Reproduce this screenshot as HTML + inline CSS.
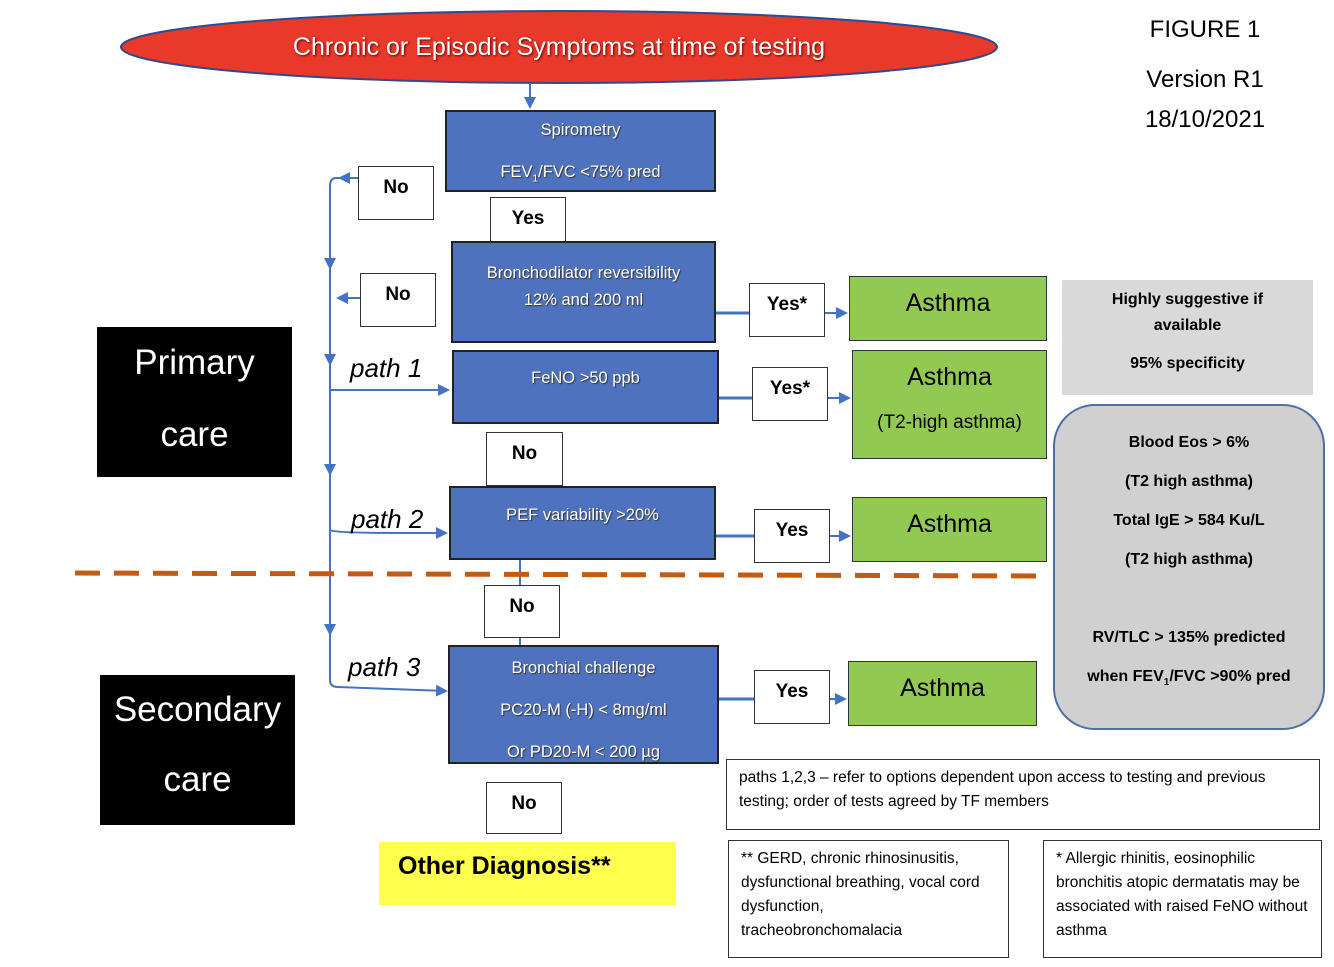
<!DOCTYPE html>
<html><head><meta charset="utf-8"><style>
body{margin:0;width:1334px;height:967px;background:#fff;position:relative;overflow:hidden;font-family:"Liberation Sans",sans-serif}
.a{position:absolute;box-sizing:border-box}
.b{background:#4f72be;border:2px solid #222;color:#fff;text-align:center;font-size:16.5px;text-shadow:1px 1px 1px #333}
.w{background:#fff;border:1.5px solid #333;font-weight:bold;font-size:19px;text-align:center;padding-top:10px}
.g{background:#92c952;border:1.5px solid #333;font-size:25px;text-align:center}
.k{background:#000;color:#fff;font-size:35px;text-align:center}
.n{background:#fff;border:1.5px solid #333;font-size:15.5px;line-height:24px;padding:6px 12px}
.f{font-size:24px;text-align:center;width:200px;left:1105px}
.p{font-style:italic;font-size:26px}
</style></head><body>
<svg class="a" style="left:0;top:0" width="1334" height="967">
<defs><marker id="m" markerWidth="6" markerHeight="6" refX="5" refY="3" orient="auto"><path d="M0,0L6,3L0,6z" fill="#4472c4"/></marker></defs>
<ellipse cx="559" cy="47" rx="438" ry="36" fill="#e8392a" stroke="#2f4b8f" stroke-width="2"/>
<g stroke="#4472c4" stroke-width="2" fill="none">
<line x1="530" y1="83" x2="530" y2="107" marker-end="url(#m)"/>
<path d="M358,178 L336,178 Q330,178 330,186 L330,680 Q330,687 338,687 L446,691" marker-end="url(#m)"/>
<line x1="358" y1="178" x2="340" y2="178" marker-end="url(#m)"/>
<line x1="360" y1="298" x2="338" y2="298" marker-end="url(#m)"/>
<line x1="330" y1="390" x2="448" y2="390" marker-end="url(#m)"/>
<path d="M330,530 Q334,533 400,533 L446,533" marker-end="url(#m)"/>
<line x1="330" y1="240" x2="330" y2="268" marker-end="url(#m)"/>
<line x1="330" y1="330" x2="330" y2="364" marker-end="url(#m)"/>
<line x1="330" y1="440" x2="330" y2="474" marker-end="url(#m)"/>
<line x1="330" y1="600" x2="330" y2="634" marker-end="url(#m)"/>
<line x1="520" y1="560" x2="520" y2="585"/>
<line x1="520" y1="638" x2="520" y2="645"/>
<line x1="716" y1="313" x2="749" y2="313" stroke-width="3"/>
<line x1="825" y1="313" x2="846" y2="313" marker-end="url(#m)"/>
<line x1="719" y1="398" x2="752" y2="398" stroke-width="3"/>
<line x1="828" y1="398" x2="849" y2="398" marker-end="url(#m)"/>
<line x1="716" y1="536" x2="754" y2="536" stroke-width="3"/>
<line x1="830" y1="536" x2="849" y2="536" marker-end="url(#m)"/>
<line x1="719" y1="699" x2="754" y2="699" stroke-width="3"/>
<line x1="830" y1="699" x2="845" y2="699" marker-end="url(#m)"/>
</g>
<line x1="75" y1="573" x2="1045" y2="576" stroke="#c55a11" stroke-width="5" stroke-dasharray="25,14"/>
</svg>
<div class="a" style="left:121px;top:33px;width:876px;text-align:center;color:#fff;font-size:25px;text-shadow:1px 1px 2px #600">Chronic or Episodic Symptoms at time of testing</div>
<div class="a b" style="left:445px;top:110px;width:271px;height:82px;padding-top:8px;line-height:21px">Spirometry<br><br>FEV<sub style="font-size:10px">1</sub>/FVC &lt;75% pred</div>
<div class="a w" style="left:358px;top:166px;width:76px;height:54px">No</div>
<div class="a w" style="left:490px;top:197px;width:76px;height:54px">Yes</div>
<div class="a b" style="left:451px;top:241px;width:265px;height:102px;padding-top:17px;line-height:27px">Bronchodilator reversibility<br>12% and 200 ml</div>
<div class="a w" style="left:360px;top:273px;width:76px;height:54px">No</div>
<div class="a b" style="left:452px;top:350px;width:267px;height:74px;padding-top:17px">FeNO &gt;50 ppb</div>
<div class="a w" style="left:486px;top:432px;width:77px;height:54px">No</div>
<div class="a b" style="left:449px;top:486px;width:267px;height:74px;padding-top:18px">PEF variability &gt;20%</div>
<div class="a w" style="left:484px;top:585px;width:76px;height:53px">No</div>
<div class="a b" style="left:448px;top:645px;width:271px;height:119px;padding-top:0;line-height:42px">Bronchial challenge<br>PC20-M (-H) &lt; 8mg/ml<br>Or PD20-M &lt; 200 µg</div>
<div class="a w" style="left:486px;top:782px;width:76px;height:52px">No</div>
<div class="a" style="left:379px;top:842px;width:297px;height:63px;background:#ffff4d;font-weight:bold;font-size:25px;padding:10px 0 0 19px">Other Diagnosis**</div>
<div class="a w" style="left:749px;top:283px;width:76px;height:54px">Yes*</div>
<div class="a g" style="left:849px;top:276px;width:198px;height:65px;padding-top:12px">Asthma</div>
<div class="a w" style="left:752px;top:367px;width:76px;height:54px">Yes*</div>
<div class="a g" style="left:852px;top:350px;width:195px;height:109px;padding-top:13px;line-height:26px">Asthma<br><span style="font-size:19px;line-height:46px;display:block;margin-top:10px">(T2-high asthma)</span></div>
<div class="a w" style="left:754px;top:509px;width:76px;height:54px">Yes</div>
<div class="a g" style="left:852px;top:497px;width:195px;height:65px;padding-top:12px">Asthma</div>
<div class="a w" style="left:754px;top:670px;width:76px;height:54px">Yes</div>
<div class="a g" style="left:848px;top:661px;width:189px;height:65px;padding-top:12px">Asthma</div>
<div class="a" style="left:1062px;top:280px;width:251px;height:115px;background:#d9d9d9;text-align:center;font-weight:bold;font-size:16px;line-height:26px;padding-top:7px">Highly suggestive if<br>available<br><span style="line-height:50px">95% specificity</span></div>
<div class="a" style="left:1053px;top:404px;width:272px;height:326px;background:#d0d0d0;border:2px solid #4f6fa8;border-radius:42px;text-align:center;font-weight:bold;font-size:16px;line-height:39px;padding-top:17px">Blood Eos &gt; 6%<br>(T2 high asthma)<br>Total IgE &gt; 584 Ku/L<br>(T2 high asthma)<br><br>RV/TLC &gt; 135% predicted<br>when FEV<sub style="font-size:10px">1</sub>/FVC &gt;90% pred</div>
<div class="a n" style="left:726px;top:759px;width:594px;height:71px">paths 1,2,3 – refer to options dependent upon access to testing and previous testing; order of tests agreed by TF members</div>
<div class="a n" style="left:728px;top:840px;width:281px;height:118px">** GERD, chronic rhinosinusitis, dysfunctional breathing, vocal cord dysfunction,<br>tracheobronchomalacia</div>
<div class="a n" style="left:1043px;top:840px;width:279px;height:118px">* Allergic rhinitis, eosinophilic bronchitis atopic dermatatis may be associated with raised FeNO without asthma</div>
<div class="a k" style="left:97px;top:327px;width:195px;height:150px;padding-top:0;line-height:72px">Primary<br>care</div>
<div class="a k" style="left:100px;top:675px;width:195px;height:150px;padding-top:0px;line-height:70px">Secondary<br>care</div>
<div class="a p" style="left:350px;top:353px">path 1</div>
<div class="a p" style="left:351px;top:504px">path 2</div>
<div class="a p" style="left:348px;top:652px">path 3</div>
<div class="a f" style="top:16px">FIGURE 1</div>
<div class="a f" style="top:66px">Version R1</div>
<div class="a f" style="top:106px">18/10/2021</div>
</body></html>
